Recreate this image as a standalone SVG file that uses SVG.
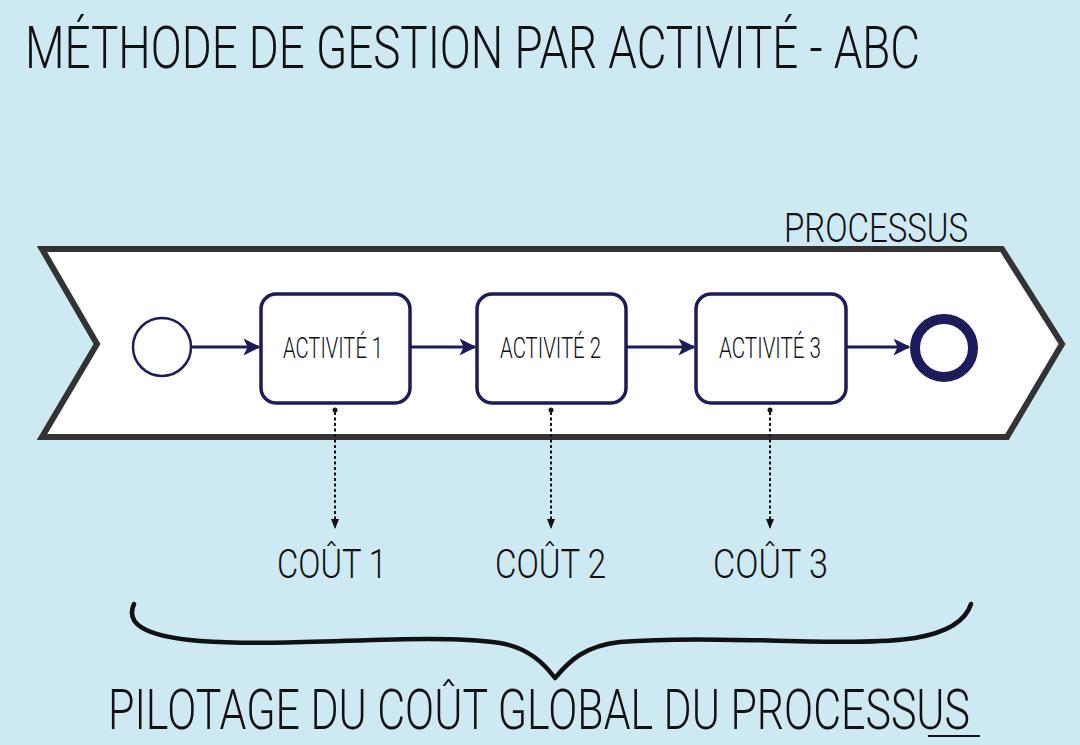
<svg xmlns="http://www.w3.org/2000/svg" width="1080" height="745" viewBox="0 0 1080 745">
<style>
.t{font-family:Roboto,"Liberation Sans","DejaVu Sans",sans-serif;font-weight:300;fill:#111;}
.box{fill:#fff;stroke:#1b1b5e;stroke-width:3.5;}
.flow{stroke:#1b1b5e;stroke-width:3;fill:none;}
.dot{stroke:#111;stroke-width:2;stroke-dasharray:3 2.5;fill:none;}
</style>
<defs>
<marker id="fa" viewBox="0 0 12 12" refX="11" refY="6" markerWidth="17" markerHeight="17" markerUnits="userSpaceOnUse" orient="auto">
<path d="M0,0 L12,6 L0,12 L3,6 Z" fill="#1b1b5e"/>
</marker>
<marker id="da" viewBox="0 0 10 10" refX="9" refY="5" markerWidth="10" markerHeight="10" markerUnits="userSpaceOnUse" orient="auto">
<path d="M0,1 L10,5 L0,9 Z" fill="#111"/>
</marker>
</defs>
<rect width="1080" height="745" fill="#cde9f2"/>
<text class="t" transform="translate(25,68) scale(1,1.3)" x="0" y="0" font-size="45" textLength="895" lengthAdjust="spacingAndGlyphs">MÉTHODE DE GESTION PAR ACTIVITÉ - ABC</text>
<g id="processus">
<path d="M42,249 L1002,249 L1062,344 L1007,437 L42,437 L97,344 Z" fill="#fff" stroke="#333" stroke-width="6" stroke-linejoin="miter"/>
<text class="t" x="784" y="242" font-size="40" textLength="184" lengthAdjust="spacingAndGlyphs">PROCESSUS</text>
</g>
<g id="start"><circle cx="162" cy="347" r="29" fill="#fff" stroke="#1b1b5e" stroke-width="2.5"/></g>
<g id="activite1"><rect class="box" x="261" y="294" width="149" height="109" rx="15"/>
<text class="t" x="283" y="358" font-size="30" textLength="100" lengthAdjust="spacingAndGlyphs">ACTIVITÉ 1</text></g>
<g id="activite2"><rect class="box" x="477" y="294" width="149" height="109" rx="15"/>
<text class="t" x="500" y="358" font-size="30" textLength="101" lengthAdjust="spacingAndGlyphs">ACTIVITÉ 2</text></g>
<g id="activite3"><rect class="box" x="696" y="294" width="150" height="109" rx="15"/>
<text class="t" x="719" y="358" font-size="30" textLength="102" lengthAdjust="spacingAndGlyphs">ACTIVITÉ 3</text></g>
<g id="end"><circle cx="944" cy="348" r="29" fill="#fff" stroke="#1b1b5e" stroke-width="10"/></g>
<g id="connectors">
<line class="flow" x1="192" y1="347" x2="259" y2="347" marker-end="url(#fa)"/>
<line class="flow" x1="410" y1="347" x2="475" y2="347" marker-end="url(#fa)"/>
<line class="flow" x1="626" y1="347" x2="694" y2="347" marker-end="url(#fa)"/>
<line class="flow" x1="846" y1="347" x2="909" y2="347" marker-end="url(#fa)"/>
<circle cx="335" cy="410" r="2.5" fill="#111"/>
<line class="dot" x1="335" y1="412" x2="335" y2="528" marker-end="url(#da)"/>
<circle cx="551" cy="410" r="2.5" fill="#111"/>
<line class="dot" x1="551" y1="412" x2="551" y2="528" marker-end="url(#da)"/>
<circle cx="770" cy="410" r="2.5" fill="#111"/>
<line class="dot" x1="770" y1="412" x2="770" y2="528" marker-end="url(#da)"/>
</g>
<g id="couts">
<text class="t" x="277" y="578" font-size="40" textLength="110" lengthAdjust="spacingAndGlyphs">COÛT 1</text>
<text class="t" x="495" y="578" font-size="40" textLength="111" lengthAdjust="spacingAndGlyphs">COÛT 2</text>
<text class="t" x="713" y="578" font-size="40" textLength="115" lengthAdjust="spacingAndGlyphs">COÛT 3</text>
</g>
<g id="brace">
<path d="M134,604 C126,622 140,636 200,641 C300,648 420,632 500,643 C530,648 545,665 555,678 C570,660 585,646 620,642 C720,634 850,648 915,638 C950,632 966,620 971,604" fill="none" stroke="#111" stroke-width="4.5" stroke-linecap="round" stroke-linejoin="round"/>
</g>
<text class="t" transform="translate(108,729) scale(1,1.25)" x="0" y="0" font-size="45" textLength="862" lengthAdjust="spacingAndGlyphs">PILOTAGE DU COÛT GLOBAL DU PROCESSUS</text>
<line x1="928" y1="736" x2="980" y2="736" stroke="#111" stroke-width="2"/>
</svg>
